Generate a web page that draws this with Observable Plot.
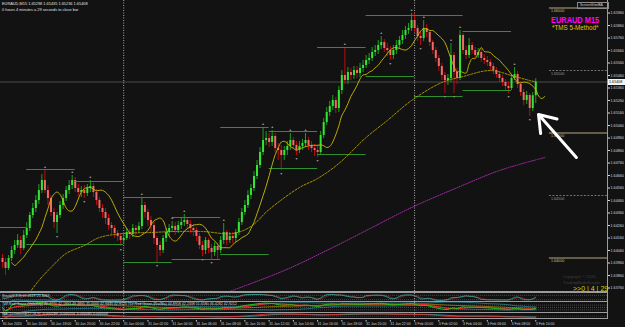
<!DOCTYPE html>
<html><head><meta charset="utf-8">
<script src="https://cdn.jsdelivr.net/npm/d3@7"></script>
<script src="https://cdn.jsdelivr.net/npm/@observablehq/plot@0.6"></script>
<style>
html,body{margin:0;padding:0;background:#121212;}
#wrap{position:relative;width:625px;height:327px;background:#121212;overflow:hidden;font-family:"Liberation Sans",Arial,sans-serif;color:#ddd;}
#wrap svg{position:absolute;left:0;overflow:visible;}
.t{position:absolute;white-space:nowrap;line-height:1;}
.sep{position:absolute;background:#9c9c9c;}
</style></head><body><div id="wrap"></div>
<script>
// ---------- DATA (EURAUD M15, 30 Jan 2020 14:00 -> 3 Feb 2020 10:00) ----------
const firstOpen = 1.63996;
const closes = [
1.63964,1.63916,1.63996,1.64060,1.64100,1.64140,1.64076,1.64180,1.64236,1.64340,
1.64396,1.64460,1.64540,1.64620,1.64540,1.64476,1.64364,1.64284,1.64340,1.64420,
1.64476,1.64540,1.64580,1.64620,1.64556,1.64524,1.64540,1.64516,1.64556,1.64572,
1.64524,1.64460,1.64396,1.64364,1.64316,1.64260,1.64236,1.64196,1.64172,1.64140,
1.64156,1.64204,1.64188,1.64236,1.64220,1.64252,1.64420,1.64364,1.64300,1.64260,
1.64156,1.64100,1.64060,1.64156,1.64204,1.64236,1.64252,1.64220,1.64260,1.64284,
1.64300,1.64268,1.64236,1.64220,1.64172,1.64100,1.64060,1.64140,1.64076,1.64044,
1.64092,1.64060,1.64140,1.64204,1.64140,1.64172,1.64156,1.64204,1.64284,1.64364,
1.64420,1.64500,1.64556,1.64652,1.64740,1.64844,1.64940,1.64956,1.64924,1.64972,
1.64876,1.64860,1.64820,1.64860,1.64892,1.64940,1.64900,1.64860,1.64892,1.64916,
1.64940,1.64900,1.64876,1.64860,1.64844,1.64980,1.65084,1.65164,1.65212,1.65260,
1.65196,1.65340,1.65460,1.65420,1.65484,1.65460,1.65500,1.65476,1.65516,1.65540,
1.65580,1.65596,1.65644,1.65660,1.65700,1.65724,1.65676,1.65660,1.65620,1.65660,
1.65700,1.65740,1.65780,1.65820,1.65836,1.65900,1.65836,1.65772,1.65756,1.65836,
1.65804,1.65724,1.65660,1.65596,1.65532,1.65460,1.65420,1.65436,1.65620,1.65484,
1.65436,1.65780,1.65660,1.65620,1.65700,1.65660,1.65620,1.65644,1.65596,1.65580,
1.65564,1.65532,1.65500,1.65468,1.65436,1.65404,1.65372,1.65356,1.65436,1.65468,
1.65388,1.65324,1.65260,1.65300,1.65196,1.65298,1.65408];
const highs = [
1.64028,1.63996,1.64020,1.64092,1.64140,1.64188,1.64172,1.64220,1.64284,1.64364,
1.64436,1.64500,1.64588,1.64668,1.64700,1.64580,1.64500,1.64396,1.64364,1.64452,
1.64508,1.64572,1.64620,1.64660,1.64644,1.64588,1.64572,1.64580,1.64588,1.64620,
1.64596,1.64548,1.64484,1.64428,1.64396,1.64348,1.64284,1.64260,1.64220,1.64196,
1.64188,1.64236,1.64228,1.64268,1.64260,1.64284,1.64484,1.64444,1.64388,1.64332,
1.64284,1.64172,1.64132,1.64180,1.64236,1.64268,1.64292,1.64284,1.64292,1.64316,
1.64348,1.64324,1.64300,1.64268,1.64244,1.64196,1.64132,1.64164,1.64156,1.64108,
1.64124,1.64116,1.64172,1.64276,1.64220,1.64204,1.64204,1.64228,1.64316,1.64396,
1.64460,1.64540,1.64588,1.64692,1.64780,1.64884,1.65044,1.65012,1.64996,1.65020,
1.64996,1.64916,1.64900,1.64892,1.64932,1.64996,1.64964,1.64932,1.64932,1.64948,
1.64996,1.64964,1.64932,1.64908,1.64900,1.65012,1.65116,1.65204,1.65252,1.65300,
1.65284,1.65372,1.65500,1.65684,1.65524,1.65516,1.65532,1.65532,1.65556,1.65580,
1.65620,1.65636,1.65684,1.65700,1.65740,1.65772,1.65748,1.65716,1.65692,1.65700,
1.65740,1.65772,1.65820,1.65852,1.65876,1.65956,1.65948,1.65860,1.65804,1.65900,
1.65868,1.65820,1.65740,1.65684,1.65620,1.65556,1.65484,1.65468,1.65716,1.65644,
1.65516,1.65820,1.65796,1.65692,1.65756,1.65724,1.65684,1.65676,1.65668,1.65628,
1.65612,1.65588,1.65556,1.65524,1.65492,1.65460,1.65428,1.65404,1.65468,1.65524,
1.65492,1.65412,1.65348,1.65332,1.65316,1.65324,1.65435];
const lows = [
1.63916,1.63860,1.63900,1.63972,1.64028,1.64076,1.64028,1.64060,1.64156,1.64212,
1.64316,1.64364,1.64428,1.64516,1.64516,1.64420,1.64332,1.64236,1.64196,1.64316,
1.64388,1.64452,1.64508,1.64548,1.64524,1.64492,1.64484,1.64476,1.64492,1.64524,
1.64484,1.64420,1.64364,1.64316,1.64268,1.64220,1.64188,1.64156,1.64132,1.64092,
1.64108,1.64140,1.64148,1.64164,1.64180,1.64196,1.64228,1.64316,1.64252,1.64204,
1.64108,1.63964,1.64012,1.64036,1.64124,1.64172,1.64204,1.64180,1.64196,1.64228,
1.64252,1.64228,1.64196,1.64172,1.64132,1.64068,1.64012,1.64028,1.64036,1.63988,
1.64012,1.63988,1.64036,1.64108,1.64100,1.64116,1.64116,1.64124,1.64180,1.64260,
1.64340,1.64396,1.64468,1.64532,1.64628,1.64716,1.64820,1.64900,1.64884,1.64892,
1.64844,1.64780,1.64700,1.64780,1.64820,1.64860,1.64868,1.64820,1.64836,1.64860,
1.64884,1.64860,1.64844,1.64812,1.64804,1.64820,1.64956,1.65060,1.65132,1.65180,
1.65156,1.65164,1.65308,1.65388,1.65388,1.65420,1.65428,1.65436,1.65444,1.65484,
1.65516,1.65548,1.65572,1.65612,1.65628,1.65668,1.65644,1.65612,1.65580,1.65588,
1.65628,1.65668,1.65708,1.65748,1.65788,1.65812,1.65804,1.65732,1.65700,1.65732,
1.65764,1.65692,1.65628,1.65564,1.65492,1.65420,1.65316,1.65380,1.65404,1.65316,
1.65388,1.65420,1.65628,1.65588,1.65596,1.65628,1.65588,1.65596,1.65564,1.65548,
1.65532,1.65500,1.65468,1.65436,1.65404,1.65372,1.65340,1.65316,1.65340,1.65420,
1.65356,1.65292,1.65220,1.65228,1.65132,1.65172,1.65236];

// H4 high/low levels (block start bar, 16 bars each)
const h4Start = [-8, 8, 24, 40, 56, 72, 88, 104, 120, 136, 152];
const h4High  = [1.64244,1.64708,1.64612,1.64484,1.64324,1.65044,1.65012,1.65684,1.65940,1.65940,1.65812];
const h4Low   = [null,1.64108,1.64108,1.63964,1.63988,1.64028,1.64716,1.64828,1.65452,1.65292,1.65340];

// slow moving average (dashed gold) and long MA (purple)
const slowBars = [9,12,16,21,27,32,40,49,57,66,76,82,88,98,104,111,120,127,135,145,152,161,168,174,176];
const slowMA   = [1.63724,1.63820,1.63924,1.64036,1.64100,1.64164,1.64196,1.64204,1.64212,1.64212,1.64196,1.64252,1.64388,1.64564,1.64636,1.64756,1.64964,1.65100,1.65260,1.65404,1.65452,1.65500,1.65460,1.65420,1.65410];
const purpleBars = [74,93,109,122,135,151,164,179];
const purpleMA   = [1.63724,1.63900,1.64084,1.64244,1.64404,1.64572,1.64700,1.64804];

// round-number levels on right side
const levelPrices = [1.66000,1.65500,1.65000,1.64500,1.64000];
const levelLabels = ["1.66000","1.65500","1.65000","1.64500","1.64000"];
const levelMajor  = [true,false,true,false,true];

// price axis ticks
const priceTicks = [1.6596,1.6586,1.6576,1.6566,1.6556,1.6546,1.6536,1.6526,1.6516,1.6506,1.6496,1.6486,
  1.6476,1.6466,1.6456,1.6446,1.6436,1.6426,1.6416,1.6406,1.6396,1.6386,1.6376];
// time axis
const tickBars = [0,8,16,24,32,40,48,56,64,72,80,88,96,104,112,120,128,136,144,152,160,168,176];
const tickLabels = ["30 Jan 2020","30 Jan 16:00","30 Jan 18:00","30 Jan 20:00","30 Jan 22:00","31 Jan 00:00",
  "31 Jan 02:00","31 Jan 04:00","31 Jan 06:00","31 Jan 08:00","31 Jan 10:00","31 Jan 12:00","31 Jan 14:00",
  "31 Jan 16:00","31 Jan 18:00","31 Jan 20:00","31 Jan 22:00","3 Feb 00:00","3 Feb 02:00","3 Feb 04:00",
  "3 Feb 06:00","3 Feb 08:00","3 Feb 10:00"];
const daySep = [40, 136];
const arrowFrom = [189.4, 1.64804];
const arrowTo = [176.9, 1.65148];
const stochLevels = [20, 80];
const tdiLevels = [32, 50, 68];

// ---------- BUILD ----------
const N = closes.length;
const lastClose = closes[N-1];
const bars = closes.map((c,i)=>{const o = i===0?firstOpen:closes[i-1]; return {i,o,c,h:highs[i],l:lows[i],up:c>=o};});
const win = (a,i,n)=>a.slice(Math.max(0,i-n+1), i+1);
const sma5 = closes.map((_,i)=> d3.mean(win(closes,i,5)));
const fastLine = sma5.map((v,i)=>({x:i+3,y:v}));
const slowLine = slowBars.map((b,k)=>({x:b,y:slowMA[k]}));
const purpleLine = purpleBars.map((b,k)=>({x:b,y:purpleMA[k]}));
const h4Rows = h4Start.map((s,k)=>({s, e:s+16, h:h4High[k], l:h4Low[k]}));
const upFr=[], dnFr=[];
for(let i=2;i<N-2;i++){
  if(highs[i]>highs[i-1]&&highs[i]>highs[i-2]&&highs[i]>=highs[i+1]&&highs[i]>=highs[i+2]) upFr.push({i,p:highs[i]});
  if(lows[i]<lows[i-1]&&lows[i]<lows[i-2]&&lows[i]<=lows[i+1]&&lows[i]<=lows[i+2]) dnFr.push({i,p:lows[i]});
}
const levels = levelPrices.map((p,k)=>({p, label:levelLabels[k], major:levelMajor[k]}));

const xDom = [-0.66,199.67];
const common = {width:625, marginLeft:0, marginRight:18, x:{domain:xDom, axis:null},
  style:{background:"transparent", color:"#d8d8d8", fontFamily:"Liberation Sans, Arial, sans-serif"}};
const wrap = document.getElementById("wrap");
function put(svg, top){ svg.style.top = top+"px"; wrap.appendChild(svg); return svg; }
const sepRule = Plot.ruleX(daySep, {stroke:"#d0d0d0", strokeDasharray:"1,1.5", strokeWidth:0.8});

const main = Plot.plot({
  ...common, height:292, marginTop:0, marginBottom:0,
  y:{domain:[1.63724,1.66060]},
  marks:[
    Plot.ruleY([lastClose], {stroke:"#5c5c5c", strokeWidth:0.8}),
    sepRule,
    Plot.ruleY(levels.filter(d=>d.major), {y:"p", x1:180.5, x2:199.67, stroke:"#cbbd8e", strokeWidth:0.9}),
    Plot.ruleY(levels.filter(d=>!d.major), {y:"p", x1:180.5, x2:199.67, stroke:"#8a8a8a", strokeDasharray:"2,1.5", strokeWidth:0.8}),
    Plot.text(levels, {x:181, y:"p", text:"label", dy:3, textAnchor:"start", fontSize:3.7, fill:d=>d.major?"#cbbd8e":"#9a9a9a"}),
    Plot.ruleX(bars, {x:"i", y1:"l", y2:"h", stroke:d=>d.up?"#1c9e1c":"#c00a0a", strokeWidth:1}),
    Plot.ruleX(bars, {x:"i", y1:"o", y2:"c", stroke:d=>d.up?"#33e633":"#f06a6a", strokeWidth:2}),
    Plot.ruleY(h4Rows, {y:"h", x1:"s", x2:"e", stroke:"#2f8f2f", strokeWidth:1, clip:true}),
    Plot.ruleY(h4Rows.filter(d=>d.l!=null), {y:"l", x1:"s", x2:"e", stroke:"#2f8f2f", strokeWidth:1, clip:true}),
    Plot.line(purpleLine, {x:"x", y:"y", stroke:"#a32aa8", strokeWidth:1, strokeDasharray:"1,1.3", curve:"catmull-rom", clip:true}),
    Plot.line(slowLine, {x:"x", y:"y", stroke:"#b5a000", strokeWidth:0.9, strokeDasharray:"2,1.5", curve:"catmull-rom", clip:true}),
    Plot.line(fastLine, {x:"x", y:"y", stroke:"#cdbb00", strokeWidth:0.9, curve:"catmull-rom", clip:true}),
    Plot.text(upFr, {x:"i", y:"p", text:()=>"▲", dy:-3.5, fontSize:3.6, fill:"#8e8e8e"}),
    Plot.text(dnFr, {x:"i", y:"p", text:()=>"▼", dy:3.5, fontSize:3.6, fill:"#8e8e8e"}),
    Plot.arrow([0], {x1:()=>arrowFrom[0], y1:()=>arrowFrom[1], x2:()=>arrowTo[0], y2:()=>arrowTo[1], stroke:"#ffffff", strokeWidth:3, headLength:10, headAngle:70}),
    Plot.axisY(priceTicks, {anchor:"right", tickSize:2, tickPadding:1, fontSize:3.7, tickFormat:d=>d.toFixed(5), fill:"#d8d8d8", stroke:"#d8d8d8"})
  ]
});
put(main, 0);

// ----- indicators -----
const stRaw = closes.map((c,i)=>{const hh=d3.max(win(highs,i,5)), ll=d3.min(win(lows,i,5)); return {n:c-ll,d:hh-ll};});
const stK = stRaw.map((_,i)=>{const w=win(stRaw,i,3); const d=d3.sum(w,x=>x.d); return d?100*d3.sum(w,x=>x.n)/d:50;});
const stD = stK.map((_,i)=>d3.mean(win(stK,i,3)));
function rsi(a,n){const out=[50]; let ag=0,al=0;
  for(let i=1;i<a.length;i++){const d=a[i]-a[i-1]; const g=d>0?d:0,l=d<0?-d:0;
    if(i<=n){ag=(ag*(i-1)+g)/i; al=(al*(i-1)+l)/i;} else {ag=(ag*(n-1)+g)/n; al=(al*(n-1)+l)/n;}
    out.push(al===0?100:100-100/(1+ag/al));}
  return out;}
const r13 = rsi(closes,13);
const tdiG = r13.map((_,i)=>d3.mean(win(r13,i,2)));
const tdiR = r13.map((_,i)=>d3.mean(win(r13,i,7)));
const tdiM = r13.map((_,i)=>d3.mean(win(r13,i,34)));
const tdiS = r13.map((_,i)=>{const w=win(r13,i,34); return w.length>1?d3.deviation(w):0;});
function ema(a,n){const k=2/(n+1); let e=a[0]; return a.map((v,i)=>(e = i===0?v:e+k*(v-e)));}
const e12 = ema(closes,12), e26 = ema(closes,26);
const macd = e12.map((v,i)=>v-e26[i]);
const macdSig = macd.map((_,i)=>d3.mean(win(macd,i,9)));
const ser = a=>a.map((v,i)=>({i,v}));
const mExt = d3.max(macd.concat(macdSig).map(Math.abs))*1.15;

function panel(h, dom, marks){ return Plot.plot({...common, height:h, marginTop:0, marginBottom:0, y:{domain:dom, axis:null}, marks:[sepRule, ...marks]}); }
const p1 = panel(8, [-5,105], [
  Plot.ruleY(stochLevels, {stroke:"#6a6a6a", strokeDasharray:"1,1", strokeWidth:0.6}),
  Plot.line(ser(stD), {x:"i", y:"v", stroke:"#e02020", strokeWidth:0.6, strokeDasharray:"1.5,1"}),
  Plot.line(ser(stK), {x:"i", y:"v", stroke:"#20b2aa", strokeWidth:0.8})
]);
put(p1, 293);
const p2 = panel(10, [12,88], [
  Plot.ruleY(tdiLevels, {stroke:"#6a6a6a", strokeDasharray:"1,1", strokeWidth:0.6}),
  Plot.line(ser(tdiM.map((m,i)=>m+1.6185*tdiS[i])), {x:"i", y:"v", stroke:"#2aa6c8", strokeWidth:0.6}),
  Plot.line(ser(tdiM.map((m,i)=>m-1.6185*tdiS[i])), {x:"i", y:"v", stroke:"#2aa6c8", strokeWidth:0.6}),
  Plot.line(ser(tdiM), {x:"i", y:"v", stroke:"#d0a000", strokeWidth:0.6}),
  Plot.line(ser(tdiR), {x:"i", y:"v", stroke:"#ff2020", strokeWidth:1}),
  Plot.line(ser(tdiG), {x:"i", y:"v", stroke:"#18c818", strokeWidth:1})
]);
put(p2, 302);
const p3 = panel(5.5, [-mExt, mExt], [
  Plot.ruleY([0], {stroke:"#5a5a5a", strokeDasharray:"1,1", strokeWidth:0.5}),
  Plot.line(ser(macdSig), {x:"i", y:"v", stroke:"#20b2aa", strokeWidth:0.8}),
  Plot.line(ser(macd), {x:"i", y:"v", stroke:"#ff2a2a", strokeWidth:0.8})
]);
put(p3, 312.5);

const xa = Plot.plot({...common, x:{domain:xDom}, height:9, marginTop:0, marginBottom:8,
  marks:[Plot.axisX(tickBars, {anchor:"bottom", tickSize:1.5, tickPadding:0.5, fontSize:3.5, textAnchor:"start",
    tickFormat:d=>tickLabels[tickBars.indexOf(d)], fill:"#d0d0d0", stroke:"#d0d0d0"})]});
put(xa, 318.5);

// separators / frame
function sep(l,t,w,h){const d=document.createElement("div"); d.className="sep"; Object.assign(d.style,{left:l+"px",top:t+"px",width:w+"px",height:h+"px"}); wrap.appendChild(d);}
sep(0,291.3,608,1.6); sep(0,300.8,608,1.2); sep(0,311.6,608,1); sep(0,318,608,1.2); sep(607,0,1,319.2);

// texts
function txt(s,l,t,size,color,extra){const d=document.createElement("div"); d.className="t"; d.textContent=s;
  Object.assign(d.style,{left:l+"px",top:t+"px",fontSize:size+"px",color}, extra||{}); wrap.appendChild(d); return d;}
txt("EURAUD,M15  1.65298 1.65435 1.65236 1.65408", 2, 2, 3.9, "#e0e0e0");
txt("0 hours 4 minutes a 29 seconds to close bar", 2, 7.5, 3.9, "#e0e0e0");
txt("EURAUD M15", 551, 15.3, 9.5, "#ff00ff", {fontWeight:"bold", transform:"scaleX(0.78)", transformOrigin:"left top"});
txt("*TMS 5-Method*", 552, 25.2, 6.3, "#e8c400");
txt("ScreenShotBA", 577, 1.5, 3.5, "#d0d0d0", {border:"0.6px solid #8a8a8a", padding:"1px 5px 1px 2px"});
txt("Copyright © 2015,", 563, 275, 4.2, "#3e3e3e");
txt("TradingMadeSimple", 563, 280.5, 4.2, "#3e3e3e");
txt(">>0 | 4 | 29", 573, 284.5, 7, "#d2d200");
txt("Stoch(5,3,3) 47.2619 25.3067", 2, 294.8, 3.6, "#d8d8d8");
txt("TDI Red Green (Volatility) 41.7770 42.1893 49.3895 35.0000 42.9435 42.8125   TDI Red Green (Rsi/Ma) 44.8958 42.2338 51.6580 46.4282 42.9212", 2, 303.2, 3.6, "#d8d8d8");
txt("MACD Colored(12,26,9) -0.000289 -0.000204 -0.000085 0.000000", 2, 313.3, 3.6, "#d8d8d8");
// bid price box on axis
const yb = main.scale("y").apply(lastClose);
txt(lastClose.toFixed(5), 608, yb-3, 3.7, "#000", {background:"#f4f4f4", width:"17px", height:"6px", lineHeight:"6px", paddingLeft:"1px"});
</script></body></html>
